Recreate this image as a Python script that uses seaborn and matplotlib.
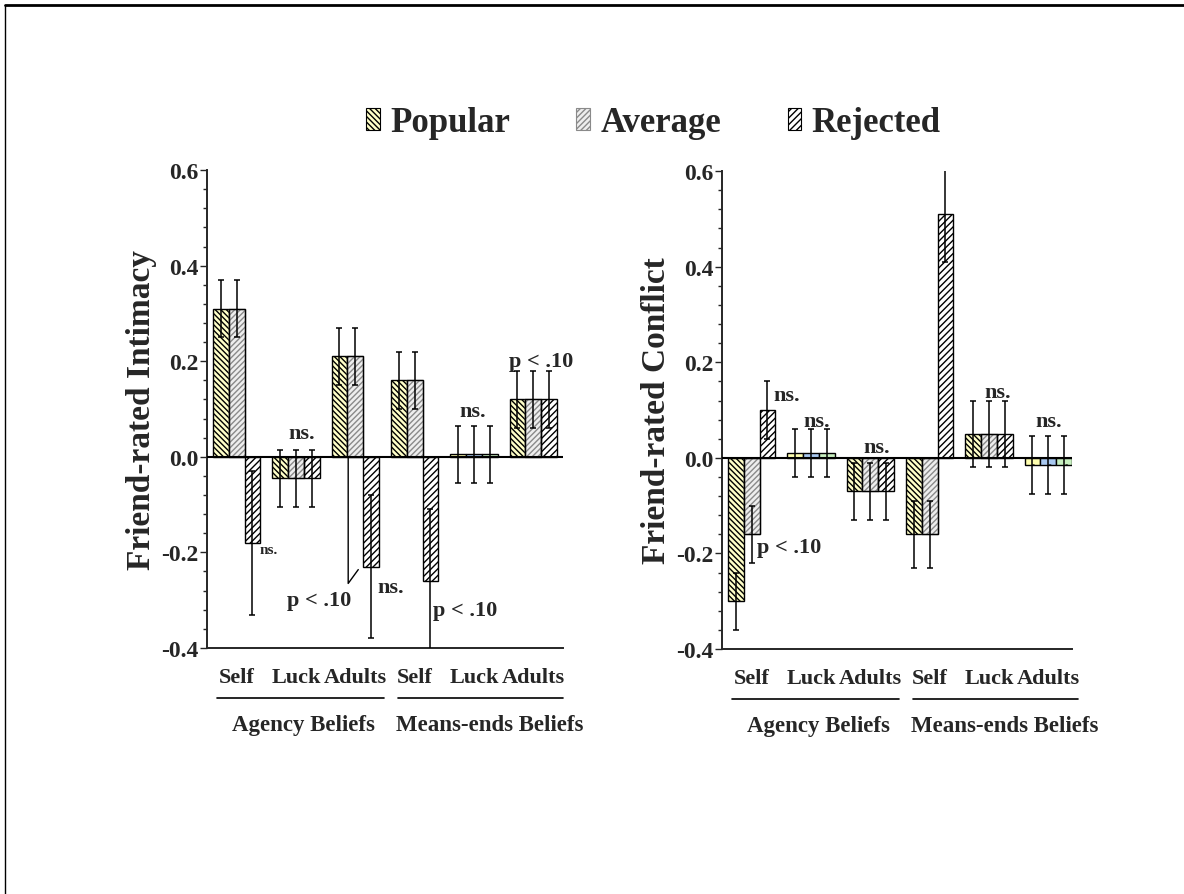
import pandas as pd
import matplotlib.pyplot as plt
import seaborn as sns
from matplotlib.patches import Patch, Rectangle
from matplotlib.lines import Line2D
from matplotlib.ticker import AutoMinorLocator, FixedLocator

# categories: belief scale x target
categories = ["Agency Self", "Agency Luck", "Agency Adults",
              "Means Self", "Means Luck", "Means Adults"]
tick_labels = ["Self", "Luck", "Adults", "Self", "Luck", "Adults"]
groups = ["Popular", "Average", "Rejected"]
ytick_labels = ["-0.4", "-0.2", "0.0", "0.2", "0.4", "0.6"]

intimacy_popular = [0.31, -0.045, 0.21, 0.16, 0.005, 0.12]
intimacy_average = [0.31, -0.045, 0.21, 0.16, 0.005, 0.12]
intimacy_rejected = [-0.18, -0.045, -0.23, -0.26, 0.005, 0.12]
intimacy_err_popular = [0.06, 0.06, 0.06, 0.06, 0.06, 0.06]
intimacy_err_average = [0.06, 0.06, 0.06, 0.06, 0.06, 0.06]
intimacy_err_rejected = [0.15, 0.06, 0.15, 0.15, 0.06, 0.06]

conflict_popular = [-0.30, 0.01, -0.07, -0.16, 0.05, -0.015]
conflict_average = [-0.16, 0.01, -0.07, -0.16, 0.05, -0.015]
conflict_rejected = [0.10, 0.01, -0.07, 0.51, 0.05, -0.015]
conflict_err_popular = [0.06, 0.05, 0.06, 0.07, 0.07, 0.06]
conflict_err_average = [0.06, 0.05, 0.06, 0.07, 0.07, 0.06]
conflict_err_rejected = [0.06, 0.05, 0.06, 0.10, 0.07, 0.06]

sns.set_style("ticks")
plt.rcParams['font.family'] = ['Liberation Serif', 'DejaVu Serif']
plt.rcParams['font.weight'] = 'bold'
plt.rcParams['hatch.linewidth'] = 1.0

styles = {
    "Popular": dict(face="#ffffc8", edge="black", hatch="\\\\\\\\\\\\"),
    "Average": dict(face="#eeeeee", edge="#8a8a8a", hatch="//////"),
    "Rejected": dict(face="white", edge="black", hatch="/////"),
}
flat_faces = ["#ffffb0", "#a8c8f0", "#c8f0c0"]


def make_frame(pop, avg, rej):
    return pd.DataFrame({
        "category": categories * 3,
        "group": [g for g in groups for _ in categories],
        "value": pop + avg + rej,
    })


def draw_panel(ax, df, errs, flat_cats, ylabel, xmax):
    sns.barplot(data=df, x="category", y="value", hue="group", order=categories,
                hue_order=groups, errorbar=None, width=0.8, saturation=1,
                legend=False, ax=ax)
    for gi, (cont, err) in enumerate(zip(ax.containers, errs)):
        st = styles[groups[gi]]
        for ci, bar in enumerate(cont):
            if ci in flat_cats:
                bar.set_facecolor(flat_faces[gi])
                bar.set_hatch(".")
                bar.set_edgecolor("black")
            else:
                bar.set_facecolor(st["face"])
                bar.set_hatch(st["hatch"])
                bar.set_edgecolor(st["edge"])
                if st["edge"] != "black":
                    ax.add_patch(Rectangle(bar.get_xy(), bar.get_width(), bar.get_height(),
                                           fill=False, edgecolor="black", lw=1.0, zorder=2.5))
            bar.set_linewidth(1.0)
        xs = [b.get_x() + b.get_width() / 2 for b in cont]
        ys = [b.get_height() for b in cont]
        ax.errorbar(xs, ys, yerr=err, fmt="none", ecolor="black", elinewidth=1.1,
                    capsize=2.5, capthick=1.1, zorder=4)
    ax.axhline(0, color="black", lw=1.5, zorder=3)
    ax.set_ylim(-0.4, 0.6)
    ax.set_xlim(-0.5, xmax)
    ax.yaxis.set_major_locator(FixedLocator([-0.4, -0.2, 0.0, 0.2, 0.4, 0.6]))
    ax.set_yticklabels(ytick_labels, fontsize=17, fontweight="bold")
    ax.yaxis.set_minor_locator(AutoMinorLocator(5))
    ax.tick_params(axis="y", which="major", length=5, width=1.0, direction="out", pad=1)
    ax.tick_params(axis="y", which="minor", length=3, width=1.0, direction="out")
    ax.set_xticks(range(6))
    ax.set_xticklabels(tick_labels, fontsize=16, fontweight="bold")
    ax.tick_params(axis="x", length=0, pad=14)
    ax.set_xlabel("")
    ax.set_ylabel(ylabel, fontsize=24, fontweight="bold", labelpad=3)
    sns.despine(ax=ax)
    for side in ["left", "bottom"]:
        ax.spines[side].set_linewidth(1.4)
    trans = ax.get_xaxis_transform()
    for x0, x1, lab, dx in [(-0.33, 2.48, "Agency Beliefs", 0.05),
                            (2.72, 5.5, "Means-ends Beliefs", 0.15)]:
        ax.plot([x0, x1], [-0.105, -0.105], color="black", lw=1.2,
                transform=trans, clip_on=False)
        ax.text((x0 + x1) / 2 + dx, -0.16, lab, transform=trans, ha="center",
                va="center", fontsize=16.5, fontweight="bold")


fig = plt.figure(figsize=(11.84, 8.95), dpi=100)
ax1 = fig.add_axes([0.1748, 0.2749, 0.3007, 0.534])
ax2 = fig.add_axes([0.6098, 0.2737, 0.2956, 0.534])

draw_panel(ax1, make_frame(intimacy_popular, intimacy_average, intimacy_rejected),
           [intimacy_err_popular, intimacy_err_average, intimacy_err_rejected],
           [4], "Friend-rated Intimacy", 5.5)
draw_panel(ax2, make_frame(conflict_popular, conflict_average, conflict_rejected),
           [conflict_err_popular, conflict_err_average, conflict_err_rejected],
           [1, 5], "Friend-rated Conflict", 5.4)

note = dict(fontsize=16, fontweight="bold", va="center")
# significance notes, left panel
ax1.text(0.39, -0.195, "ns.", fontsize=11, fontweight="bold", ha="left", va="center")
ax1.text(1.1, 0.05, "ns.", ha="center", **note)
ax1.text(1.39, -0.30, "p < .10", ha="center", **note)
ax1.plot([1.88, 1.88, 2.05], [0, -0.265, -0.236], color="black", lw=1.0)
ax1.text(2.6, -0.272, "ns.", ha="center", **note)
ax1.text(3.85, -0.32, "p < .10", ha="center", **note)
ax1.text(3.97, 0.095, "ns.", ha="center", **note)
ax1.text(5.13, 0.2, "p < .10", ha="center", **note)

# significance notes, right panel
ax2.text(0.36, 0.132, "ns.", ha="left", **note)
ax2.text(1.1, 0.077, "ns.", ha="center", **note)
ax2.text(0.09, -0.186, "p < .10", ha="left", **note)
ax2.text(2.11, 0.023, "ns.", ha="center", **note)
ax2.text(4.14, 0.138, "ns.", ha="center", **note)
ax2.text(5.0, 0.077, "ns.", ha="center", **note)

handles = [Patch(facecolor=styles[g]["face"], edgecolor=styles[g]["edge"],
                 hatch=styles[g]["hatch"], lw=0.8) for g in groups]
fig.legend(handles, groups, loc="center", bbox_to_anchor=(0.552, 0.862), ncol=3,
           frameon=False, prop={"size": 25, "weight": "bold"}, handlelength=0.4,
           handleheight=0.6, handletextpad=0.3, columnspacing=1.9)

# page frame
fig.add_artist(Line2D([0.0042, 1.0], [0.9935, 0.9935], color="black", lw=2.0,
                      transform=fig.transFigure))
fig.add_artist(Line2D([0.0042, 0.0042], [0.0, 0.9935], color="black", lw=1.0,
                      transform=fig.transFigure))

fig.savefig("out.png", dpi=100)
